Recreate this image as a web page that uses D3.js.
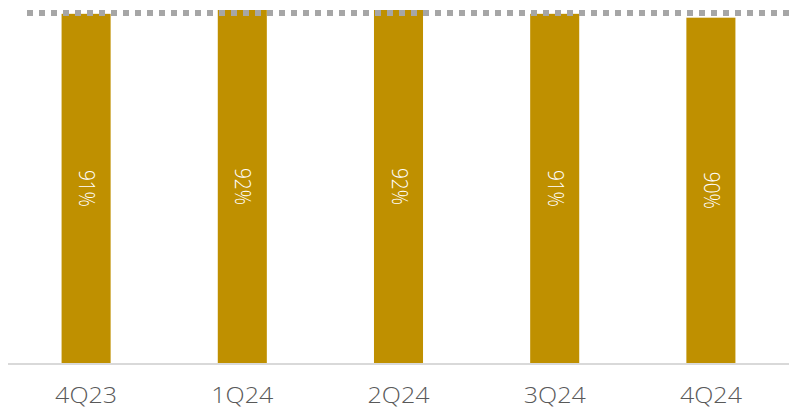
<!DOCTYPE html>
<html>
<head>
<meta charset="utf-8">
<script src="https://cdn.jsdelivr.net/npm/d3@7"></script>
<style>
  html, body { margin: 0; padding: 0; background: #fff; }
  svg { display: block; }
  text { font-family: "Century Gothic", "Open Sans", Lato, sans-serif; font-weight: 300; }
</style>
</head>
<body>
<svg id="chart" width="793" height="410"></svg>
<script>
// Quarterly share values (percent)
const quarters = ["4Q23", "1Q24", "2Q24", "3Q24", "4Q24"];
const shares = [91, 92, 92, 91, 90];
// Reference level shown as a dotted line
const targetLevel = [91.2];

const width = 793, height = 410;
const margin = { left: 8, right: 4, top: 10, bottom: 47 };
const fontStack = "\"Century Gothic\", \"Open Sans\", Lato, sans-serif";

const svg = d3.select("#chart");

const x = d3.scaleBand()
  .domain(quarters)
  .range([margin.left, width - margin.right])
  .paddingInner(0.686)
  .paddingOuter(0.343);

const y = d3.scaleLinear()
  .domain([0, 92])
  .range([height - margin.bottom, margin.top]);

const data = quarters.map((q, i) => ({ q, v: shares[i] }));

// Bars
svg.append("g")
  .selectAll("rect")
  .data(data)
  .join("rect")
  .attr("x", d => x(d.q))
  .attr("y", d => y(d.v))
  .attr("width", x.bandwidth())
  .attr("height", d => y(0) - y(d.v))
  .attr("fill", "#BF9000");

// Value labels, rotated to read top-to-bottom
svg.append("g")
  .selectAll("text")
  .data(data)
  .join("text")
  .attr("transform", d => `translate(${x(d.q) + x.bandwidth() / 2 + 2},${(y(d.v) + y(0)) / 2}) rotate(90)`)
  .attr("text-anchor", "middle")
  .attr("dominant-baseline", "central")
  .attr("fill", "#ffffff")
  .attr("font-size", 22)
  .attr("textLength", 37)
  .attr("lengthAdjust", "spacingAndGlyphs")
  .text(d => d.v + "%");

// Baseline axis
const xAxis = svg.append("g")
  .attr("transform", `translate(0,${y(0) + 1})`)
  .call(d3.axisBottom(x).tickSize(0).tickPadding(23));
xAxis.select(".domain").attr("stroke", "#D9D9D9").attr("stroke-width", 2)
  .attr("d", `M${margin.left},0H${width - margin.right}`);
xAxis.selectAll("text")
  .attr("fill", "#595959")
  .attr("font-size", 22)
  .style("font-family", fontStack)
  .style("font-weight", 300)
  .attr("textLength", 62)
  .attr("lengthAdjust", "spacingAndGlyphs");

// Dotted reference line
svg.append("g")
  .selectAll("line")
  .data(targetLevel)
  .join("line")
  .attr("x1", 27)
  .attr("x2", width)
  .attr("y1", d => y(d))
  .attr("y2", d => y(d))
  .attr("stroke", "#A6A6A6")
  .attr("stroke-width", 6)
  .attr("stroke-dasharray", "6 6");
</script>
</body>
</html>
